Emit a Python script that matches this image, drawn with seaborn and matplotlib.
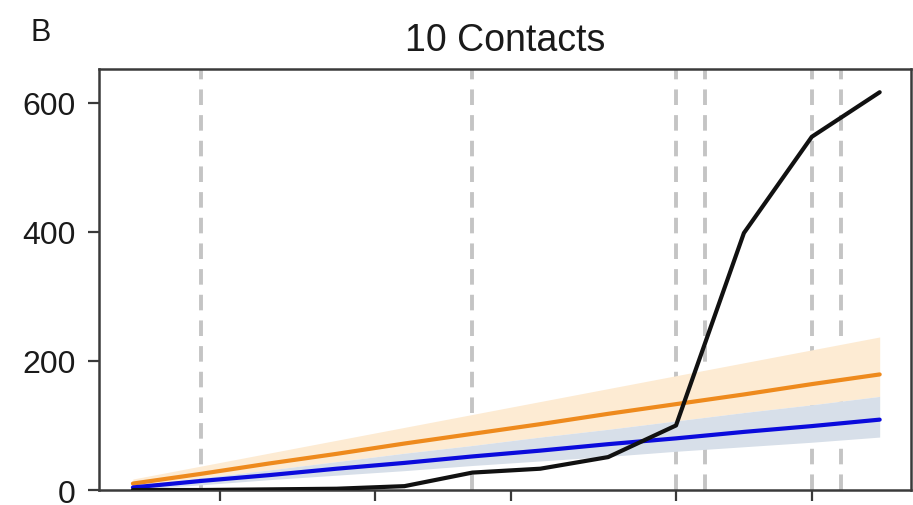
import matplotlib
matplotlib.use("Agg")
import matplotlib.pyplot as plt
import seaborn as sns
import pandas as pd

# Weekly observation dates
dates = pd.date_range("2020-04-06", periods=12, freq="7D")

# Observed cumulative cases (black)
observed = [0, 0, 1, 2, 6, 27, 33, 51, 100, 398, 547, 616]

# Model projection A (orange) with uncertainty band
proj_a = [10, 25, 41, 56, 72, 87, 102, 118, 133, 148, 164, 179]
proj_a_hi = [17, 37, 57, 77, 97, 117, 137, 157, 177, 197, 217, 237]
proj_a_lo = [6, 19, 31, 44, 57, 69, 82, 94, 107, 120, 132, 145]

# Model projection B (blue) with uncertainty band
proj_b = [4, 14, 23, 33, 42, 52, 61, 71, 80, 90, 99, 109]
proj_b_hi = [6, 19, 31, 44, 57, 69, 82, 94, 107, 120, 132, 145]
proj_b_lo = [1, 8, 16, 23, 30, 38, 45, 52, 60, 67, 74, 82]

# Intervention dates (dashed markers) and x tick dates
events = ["2020-04-13", "2020-05-11", "2020-06-01", "2020-06-04", "2020-06-15", "2020-06-18"]
tick_dates = ["2020-04-15", "2020-05-01", "2020-05-15", "2020-06-01", "2020-06-15"]
y_ticks = [0, 200, 400, 600]

sns.set_theme(style="ticks")
plt.rcParams["font.family"] = ["Liberation Sans", "DejaVu Sans"]

fig = plt.figure(figsize=(9.13, 5.06), dpi=100)
ax = fig.add_axes([0.1084, 0.0296, 0.8891, 0.8321])

df = pd.DataFrame({
    "date": dates,
    "observed": observed,
    "proj_a": proj_a,
    "proj_b": proj_b,
})

for d in events:
    ax.axvline(pd.Timestamp(d), color="#c4c4c4", linewidth=2.8, dashes=(4, 2.6), zorder=1)

ax.fill_between(dates, proj_a_lo, proj_a_hi, color="#fdebd3", lw=0, zorder=2)
ax.fill_between(dates, proj_b_lo, proj_b_hi, color="#d7dfe9", lw=0, zorder=2)

sns.lineplot(data=df, x="date", y="proj_a", color="#ee8a1d", linewidth=3.0, ax=ax, zorder=3)
sns.lineplot(data=df, x="date", y="proj_b", color="#0b0bdc", linewidth=3.0, ax=ax, zorder=3)
sns.lineplot(data=df, x="date", y="observed", color="#111111", linewidth=3.0, ax=ax, zorder=4)

ax.set_xlim(dates[0] - pd.Timedelta(days=3.5), dates[0] + pd.Timedelta(days=80.2))
ax.set_ylim(0, 652)
ax.set_yticks(y_ticks)
ax.set_xticks([pd.Timestamp(t) for t in tick_dates])
ax.set_xticklabels([])
ax.set_xlabel("")
ax.set_ylabel("")

for s in ax.spines.values():
    s.set_color("#3a3a3a")
    s.set_linewidth(1.8)
ax.tick_params(axis="both", length=8, width=1.6, color="#3a3a3a",
               labelsize=23, pad=9, labelcolor="#1a1a1a")

ax.set_title("10 Contacts", fontsize=27, pad=14, color="#1a1a1a")
fig.text(0.033, 0.919, "B", fontsize=22, va="baseline", ha="left", color="#1a1a1a")

fig.savefig("out.png", dpi=100)
